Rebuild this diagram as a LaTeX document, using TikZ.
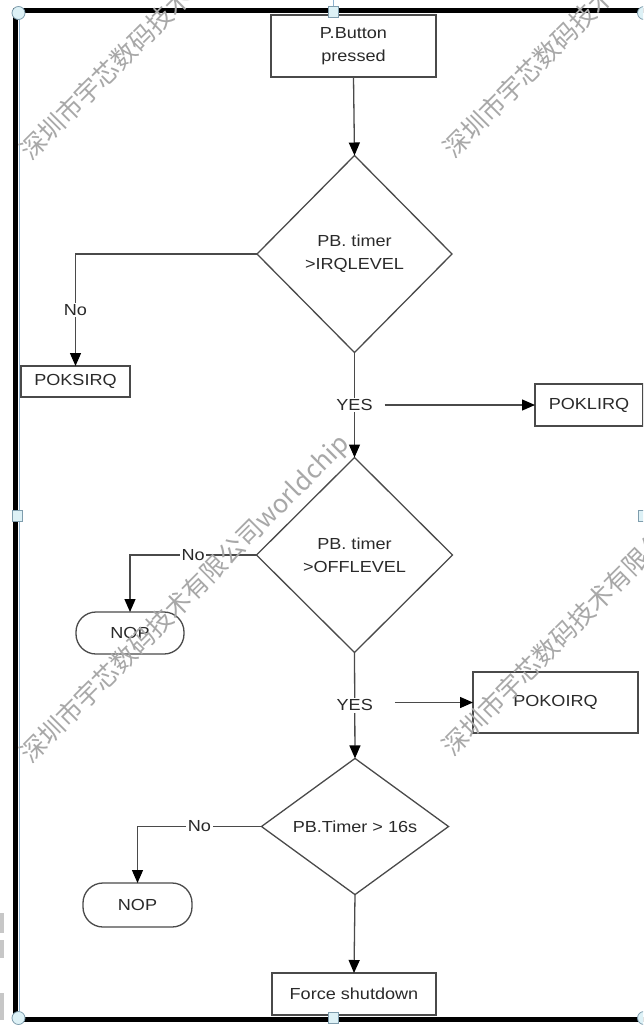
\documentclass[tikz,border=0pt]{standalone}
\usepackage{fontspec}
\setmainfont{Liberation Sans}
\newfontfamily\cjkwm{Noto Sans CJK SC}
\usetikzlibrary{shapes.geometric,arrows.meta}
\definecolor{ln}{HTML}{4A4A4A}
\definecolor{tx}{HTML}{2A2A2A}
\definecolor{hf}{HTML}{DDF1F6}
\definecolor{hs}{HTML}{7F9DAD}
\definecolor{wm}{HTML}{A8A8A8}
\definecolor{fb}{HTML}{8FB3D0}
\newcommand{\sx}[1]{\scalebox{1.13}[1]{#1}}
\begin{document}
\begin{tikzpicture}[x=1pt,y=-1pt,
  fnt/.style={font=\fontsize{16}{23}\selectfont},
  box/.style={fnt, draw=ln, line width=1.3pt, rectangle, inner sep=0pt, outer sep=0pt, text=tx, align=center},
  dec/.style={box, diamond},
  term/.style={box, rounded corners=20pt},
  lbl/.style={fnt, fill=white, text=tx, inner sep=1.5pt},
  flow/.style={draw=ln, line width=1.3pt, -{Triangle[length=13pt,width=11pt,color=black]}},
  handle/.style={fill=hf, draw=hs, line width=0.8pt},
  wmk/.style={font=\cjkwm\fontsize{25.5}{25.5}\selectfont, text=wm, rotate=45, anchor=west, inner sep=0pt}
]
\useasboundingbox (0,0) rectangle (643,1026);
\clip (0,0) rectangle (643,1026);
\fill[white] (0,0) rectangle (643,1026);

% side gray fragments
\fill[black!22] (0,913) rectangle (4,933);
\fill[black!22] (0,940) rectangle (4,958);
\fill[black!22] (0,993) rectangle (4,1020);

% frame
\draw[fb, line width=0.8pt] (333,0) -- (333,8);
\draw[black, line width=5pt] (16,10.5) -- (650,10.5);
\draw[black, line width=5pt] (16,1019.5) -- (650,1019.5);
\draw[black, line width=5pt] (15.8,8) -- (15.8,1022);
\draw[fb, line width=0.8pt] (18.9,14) -- (18.9,1016);

% nodes
\node[box, minimum width=165pt, minimum height=62pt] (start) at (353.5,46) {\sx{P.Button}\\\sx{pressed}};
\node[dec, minimum width=195pt, minimum height=197pt] (d1) at (354.5,254) {\sx{PB. timer}\\\sx{>IRQLEVEL}};
\node[box, minimum width=109pt, minimum height=31pt] (poksirq) at (75.5,381.5) {\sx{POKSIRQ}};
\node[box, minimum width=108pt, minimum height=42pt] (poklirq) at (589,405) {\sx{POKLIRQ}};
\node[dec, minimum width=196pt, minimum height=195pt] (d2) at (354.5,555) {\sx{PB. timer}\\\sx{>OFFLEVEL}};
\node[term, minimum width=108pt, minimum height=42pt] (nop1) at (130,633) {\sx{NOP}};
\node[box, minimum width=165pt, minimum height=61pt] (pokoirq) at (555.5,702.5) {\sx{POKOIRQ}};
\node[dec, minimum width=187pt, minimum height=121pt] (d3) at (355,826.5) {\sx{PB.Timer > 16s}};
\node[term, minimum width=109pt, minimum height=44pt] (nop2) at (137.5,905) {\sx{NOP}};
\node[box, minimum width=164pt, minimum height=42pt] (force) at (354,994) {\sx{Force shutdown}};

% connectors
\draw[flow] (start.south) -- (d1.north);
\draw[flow] (d1.west) -| node[lbl, pos=0.75] {\sx{No}} (poksirq.north);
\draw[flow] (d1.south) -- node[lbl] (yes1) {\sx{YES}} (d2.north);
\draw[flow] ([xshift=10pt]yes1.east |- poklirq.west) -- (poklirq.west);
\draw[flow] (d2.west) -| node[lbl, pos=0.25] {\sx{No}} (nop1.north);
\draw[flow] (d2.south) -- node[lbl] (yes2) {\sx{YES}} (d3.north);
\draw[flow] ([xshift=20pt]yes2.east |- pokoirq.west) -- (pokoirq.west);
\draw[flow] (d3.west) -| node[lbl, pos=0.25] {\sx{No}} (nop2.north);
\draw[flow] (d3.south) -- (force.north);

% handles
\draw[handle] (18.5,13) circle (6.5pt);
\draw[handle] (644,13) circle (6.5pt);
\draw[handle] (18.5,1018) circle (6.5pt);
\draw[handle] (644,1018) circle (6.5pt);
\draw[handle] (328,6) rectangle (338,17);
\draw[handle] (328,1012) rectangle (338,1023);
\draw[handle] (12,510) rectangle (22,521);
\draw[handle] (638,510) rectangle (648,521);

% watermarks
\node[wmk] (wm1) at (25.5,156.5) {深圳市宇芯数码技术有限公司worldchip};
\node[wmk] (wm2) at (448.5,154.5) {深圳市宇芯数码技术有限公司worldchip};
\node[wmk] (wm3) at (25.5,759.5) {深圳市宇芯数码技术有限公司worldchip};
\node[wmk] (wm4) at (447.5,752.5) {深圳市宇芯数码技术有限公司worldchip};
\end{tikzpicture}
\end{document}
